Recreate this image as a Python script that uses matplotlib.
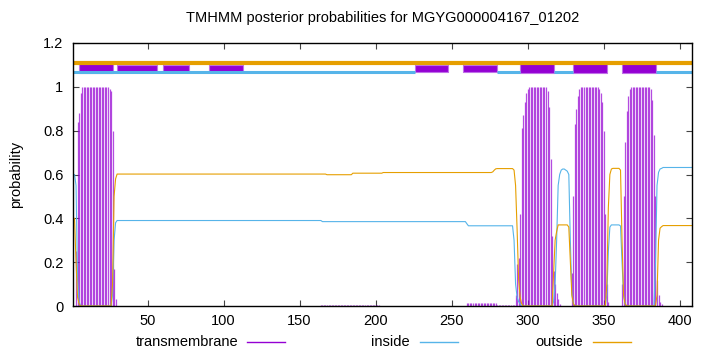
import matplotlib
matplotlib.use("Agg")
import matplotlib.pyplot as plt
from matplotlib.lines import Line2D
import numpy as np

plt.rcParams['font.family'] = ['Liberation Sans', 'DejaVu Sans']
plt.rcParams['font.size'] = 10.5

# sequence length
seq_len = 408

# posterior probabilities as (value, run length) pairs, residue 1..408
tm_runs = [(0.0, 2), (0.25, 1), (0.84, 1), (0.88, 1), (0.97, 1), (1.0, 18),
           (0.99, 1), (0.98, 1), (0.80, 1), (0.17, 1), (0.03, 1),
           (0.0, 134), (0.006, 39), (0.0, 57), (0.012, 20), (0.004, 12),
           (0.05, 1), (0.19, 1), (0.22, 1), (0.42, 1), (0.81, 1), (0.87, 1),
           (0.93, 1), (0.97, 1), (0.99, 1), (1.0, 12), (0.98, 1), (0.91, 1),
           (0.67, 1), (0.32, 1), (0.16, 1), (0.10, 1), (0.06, 1), (0.03, 1),
           (0.01, 1), (0.0, 7),
           (0.15, 1), (0.5, 1), (0.83, 1), (0.9, 1), (0.96, 1), (0.99, 1),
           (1.0, 12), (0.99, 1), (0.97, 1), (0.93, 1), (0.8, 1), (0.42, 1),
           (0.1, 1), (0.02, 1), (0.0, 8),
           (0.1, 1), (0.5, 1), (0.75, 1), (0.89, 1), (0.96, 1), (0.99, 1),
           (1.0, 13), (0.99, 1), (0.94, 1), (0.78, 1), (0.5, 1), (0.12, 1),
           (0.05, 1), (0.02, 1), (0.01, 1), (0.0, 20)]

inside_runs = [(0.6, 2), (0.55, 1), (0.12, 1), (0.02, 1), (0.0, 21),
               (0.05, 1), (0.3, 1), (0.38, 1), (0.39, 135), (0.385, 95),
               (0.375, 1), (0.366, 30), (0.3, 1), (0.1, 1), (0.04, 1),
               (0.02, 1), (0.01, 1), (0.0, 21),
               (0.02, 1), (0.1, 1), (0.3, 1), (0.55, 1), (0.6, 1), (0.62, 1),
               (0.625, 2), (0.62, 1), (0.615, 1), (0.6, 1), (0.3, 1),
               (0.06, 1), (0.01, 1), (0.0, 21),
               (0.05, 1), (0.25, 1), (0.36, 1), (0.37, 6), (0.365, 1),
               (0.2, 1), (0.05, 1), (0.01, 1), (0.0, 19),
               (0.2, 1), (0.55, 1), (0.61, 1), (0.625, 1), (0.628, 1),
               (0.632, 20)]

outside_runs = [(0.4, 2), (0.2, 1), (0.04, 1), (0.01, 1), (0.0, 21),
                (0.1, 1), (0.5, 1), (0.58, 1), (0.602, 138), (0.599, 17),
                (0.606, 20), (0.609, 72), (0.612, 1), (0.62, 1), (0.626, 1),
                (0.627, 11), (0.62, 1), (0.55, 1), (0.35, 1), (0.12, 1),
                (0.04, 1), (0.01, 1), (0.0, 20),
                (0.15, 1), (0.3, 1), (0.34, 1), (0.37, 7), (0.36, 1),
                (0.2, 1), (0.05, 1), (0.01, 1), (0.0, 21),
                (0.1, 1), (0.45, 1), (0.6, 1), (0.625, 1), (0.628, 5),
                (0.62, 1), (0.3, 1), (0.05, 1), (0.01, 1), (0.0, 20),
                (0.05, 1), (0.3, 1), (0.355, 1), (0.362, 1), (0.367, 20)]

# predicted topology bar at the top
helix_start = [4.7, 295.1, 329.9, 362.2]
helix_end = [27.1, 317.5, 352.2, 384.5]
weak_start = [29.7, 59.9, 90.1, 226.1, 257.7]
weak_end = [56.0, 77.0, 112.5, 247.8, 280.0]
inside_start = [1, 280.0, 317.5, 384.5]
inside_end = [226.1, 295.1, 329.9, 408]


def expand(runs):
    vals = []
    for v, n in runs:
        vals += [v] * n
    return np.array(vals)


res = np.arange(1, seq_len + 1)
tm = expand(tm_runs)
inside = expand(inside_runs)
outside = expand(outside_runs)

purple = '#9400D3'
blue = '#56B4E9'
orange = '#E69F00'

fig = plt.figure(figsize=(7.2, 3.52), dpi=100)
ax = fig.add_axes([73/720, 46/352, 619/720, 263/352])

ax.vlines(res, 0, tm, color=purple, lw=0.9, alpha=0.7)
ax.plot(res, inside, color=blue, lw=0.8)
ax.plot(res, outside, color=orange, lw=0.8)

# topology bar
ax.plot([1, seq_len], [1.11, 1.11], color=orange, lw=3, solid_capstyle='butt')
for s, e in zip(weak_start, weak_end):
    ax.fill_between([s, e], 1.066, 1.10, color=purple, ec='#c070e8', lw=0.8)
for s, e in zip(inside_start, inside_end):
    ax.plot([s, e], [1.068, 1.068], color=blue, lw=2.2, solid_capstyle='butt')
for s, e in zip(helix_start, helix_end):
    ax.fill_between([s, e], 1.063, 1.112, color=purple, ec='#c070e8', lw=0.8)

ax.set_xlim(1, seq_len)
ax.set_ylim(0, 1.2)
ax.set_xticks([50, 100, 150, 200, 250, 300, 350, 400])
ax.set_yticks([0, 0.2, 0.4, 0.6, 0.8, 1.0, 1.2])
ax.set_yticklabels(['0', '0.2', '0.4', '0.6', '0.8', '1', '1.2'])
ax.tick_params(direction='in', length=4, width=0.8, top=True, right=True,
               color='#444444')
ax.tick_params(axis='y', pad=7)
ax.tick_params(axis='x', pad=6)
for sp in ax.spines.values():
    sp.set_linewidth(1)
ax.set_ylabel('probability', labelpad=14)

fig.text(383/720, 1 - 18/352, 'TMHMM posterior probabilities for MGYG000004167_01202',
         ha='center', va='center')

# legend in gnuplot style: label then line sample
legend_items = [('transmembrane', purple, 238, 247, 285),
                ('inside', blue, 410, 420, 458),
                ('outside', orange, 583, 593, 631)]
ly = 1 - 342/352
for name, c, tx, l0, l1 in legend_items:
    fig.text(tx/720, ly, name, ha='right', va='center')
    fig.add_artist(Line2D([l0/720, l1/720], [ly, ly], color=c, lw=1))

fig.savefig('out.png', dpi=100)
